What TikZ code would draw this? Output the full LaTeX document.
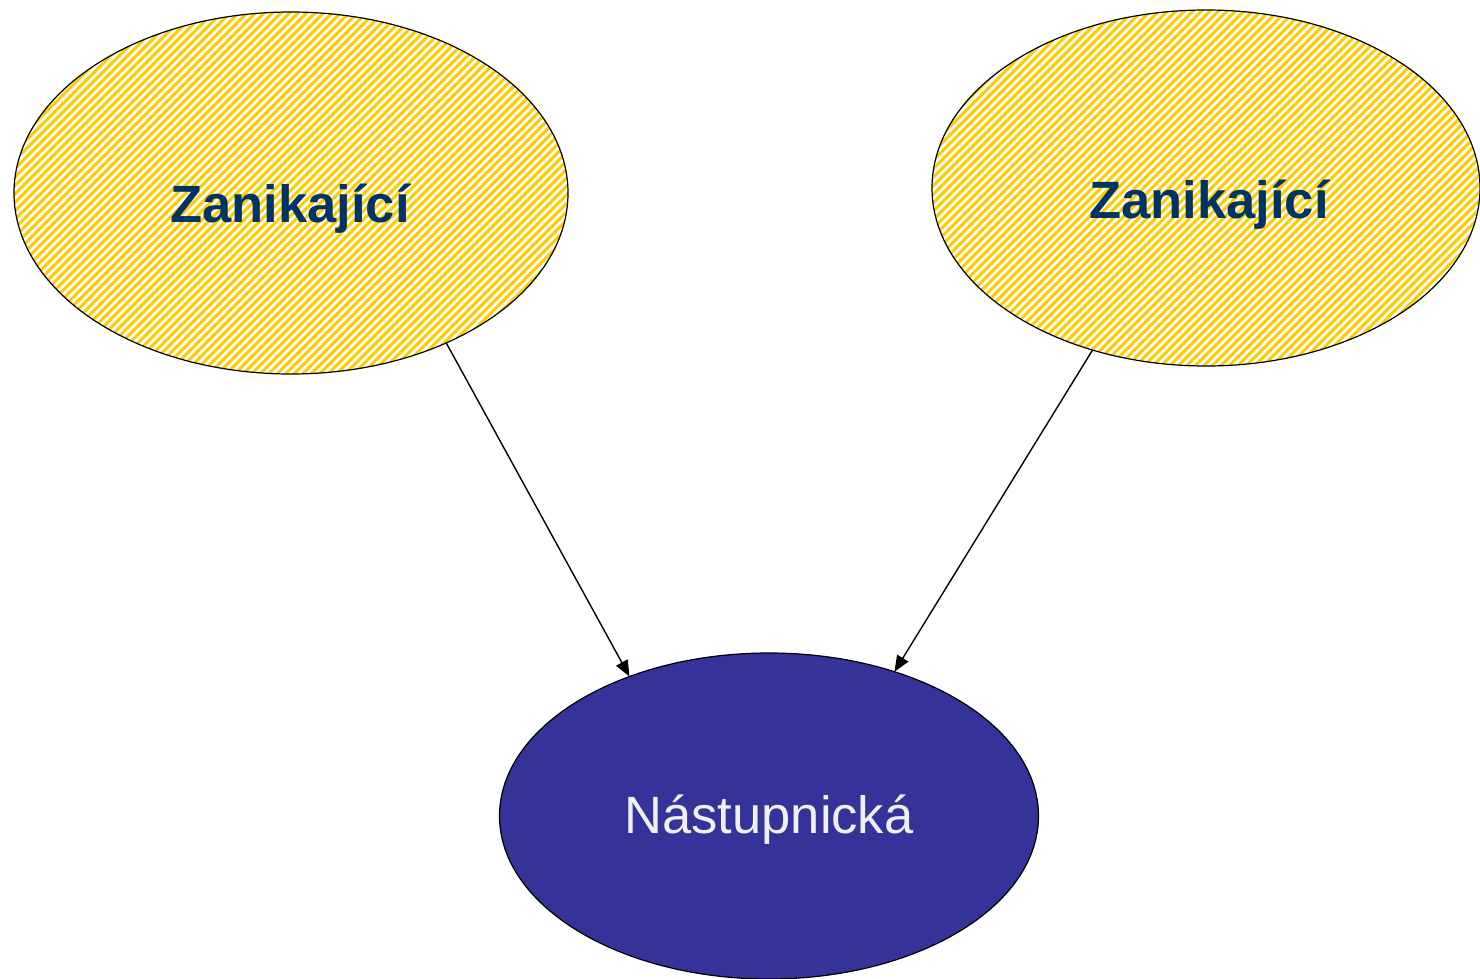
\documentclass[tikz,border=0pt]{standalone}
\usepackage{fontspec}
\setmainfont{Liberation Sans}
\usetikzlibrary{shapes.geometric,arrows.meta}
\definecolor{hatchyellow}{RGB}{255,204,0}
\definecolor{navytext}{RGB}{0,51,102}
\definecolor{succfill}{RGB}{51,51,153}
\definecolor{lighttext}{RGB}{240,240,240}
\tikzset{
  oval/.style={ellipse, draw=black, line width=1.2pt, inner sep=0pt, outer sep=0pt},
  hatched/.style={oval, fill=white, path picture={
      \foreach \c in {-700,-691.5,...,700}
        \draw[hatchyellow, line width=3.1pt]
          ([xshift=\c pt]path picture bounding box.center) ++(-400,400) -- ++(800,-800);
    }},
  solidoval/.style={oval, fill=succfill},
  boldlabel/.style={font=\fontsize{52.5}{60}\selectfont\bfseries, text=navytext, inner sep=0pt},
  plainlabel/.style={font=\fontsize{52.5}{60}\selectfont, text=lighttext, inner sep=0pt},
  link/.style={line width=1.4pt, -{Triangle[length=16pt,width=13pt]}}
}
\begin{document}
\begin{tikzpicture}[x=1pt,y=-1pt]
\useasboundingbox (0,0) rectangle (1480,979);
\node[hatched, minimum width=554pt, minimum height=362pt] (e1) at (291,193) {};
\node[hatched, minimum width=548pt, minimum height=356pt] (e2) at (1206,188) {};
\node[solidoval, minimum width=539pt, minimum height=326pt] (e3) at (769,816) {};
\node[boldlabel] (t1) at (290,209) {Zanikající};
\node[boldlabel] (t2) at (1209,205) {Zanikající};
\node[plainlabel] (t3) at (769,820) {Nástupnická};
\draw[link] (e1.-44.2) -- (e3.135.4);
\draw[link] (e2.-125.6) -- (e3.49.3);
\end{tikzpicture}
\end{document}
